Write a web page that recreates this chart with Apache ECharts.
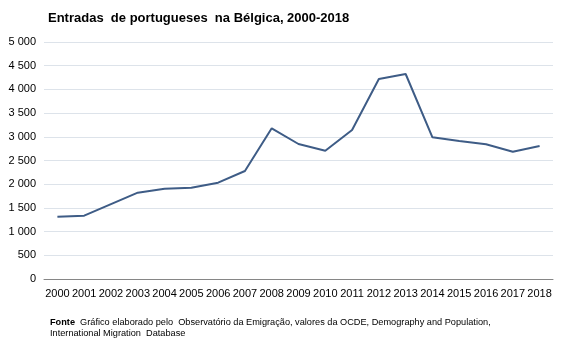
<!DOCTYPE html>
<html><head><meta charset="utf-8">
<script src="https://cdn.jsdelivr.net/npm/echarts@6/dist/echarts.min.js"></script>
<style>html,body{margin:0;padding:0;background:#fff}#c{width:567px;height:340px}</style>
</head><body><div id="c"></div>
<script>
const years = ['2000','2001','2002','2003','2004','2005','2006','2007','2008','2009','2010','2011','2012','2013','2014','2015','2016','2017','2018'];
const entradas = [1314,1336,1580,1821,1905,1926,2032,2279,3180,2848,2707,3144,4219,4325,2989,2912,2842,2686,2806];
const yTicks = [0,500,1000,1500,2000,2500,3000,3500,4000,4500,5000];
const titleText = 'Entradas  de portugueses  na Bélgica, 2000-2018';
const sourceLabel = 'Fonte';
const sourceText1 = 'Gráfico elaborado pelo  Observatório da Emigração, valores da OCDE, Demography and Population,';
const sourceText2 = 'International Migration  Database';

const chart = echarts.init(document.getElementById('c'));
const FONT = '"Liberation Sans", Arial, sans-serif';
chart.setOption({
  animation: false,
  textStyle: {fontFamily: FONT},
  title: {text: titleText, left: 48, top: 12, padding: 0,
    textStyle: {fontSize: 13, fontWeight: 'bold', color: '#000', fontFamily: FONT}},
  grid: {left: 44, right: 14, top: 42, bottom: 61},
  xAxis: {type: 'category', data: years, boundaryGap: true,
    axisLine: {lineStyle: {color: '#868686', width: 1}},
    axisTick: {show: false},
    axisLabel: {color: '#000', fontSize: 11, margin: 9, interval: 0, fontFamily: FONT}},
  yAxis: {type: 'value', min: yTicks[0], max: yTicks[yTicks.length-1], interval: 500,
    axisLine: {show: false}, axisTick: {show: false},
    splitLine: {lineStyle: {color: '#dde3ea', width: 1}},
    axisLabel: {color: '#000', fontSize: 11, margin: 8, fontFamily: FONT,
      formatter: v => String(v).replace(/\B(?=(\d{3})+(?!\d))/g, ' ')}},
  series: [{type: 'line', data: entradas, symbol: 'none',
    lineStyle: {color: '#3e5c86', width: 2}}],
  graphic: [{type: 'text', left: 50, top: 317,
    style: {text: '{b|' + sourceLabel + '}  ' + sourceText1 + '\n' + sourceText2,
      fontSize: 9.2, fill: '#000', fontFamily: FONT, lineHeight: 11,
      rich: {b: {fontWeight: 'bold', fontSize: 9.2, fontFamily: FONT, lineHeight: 11}}}}]
});
</script></body></html>
